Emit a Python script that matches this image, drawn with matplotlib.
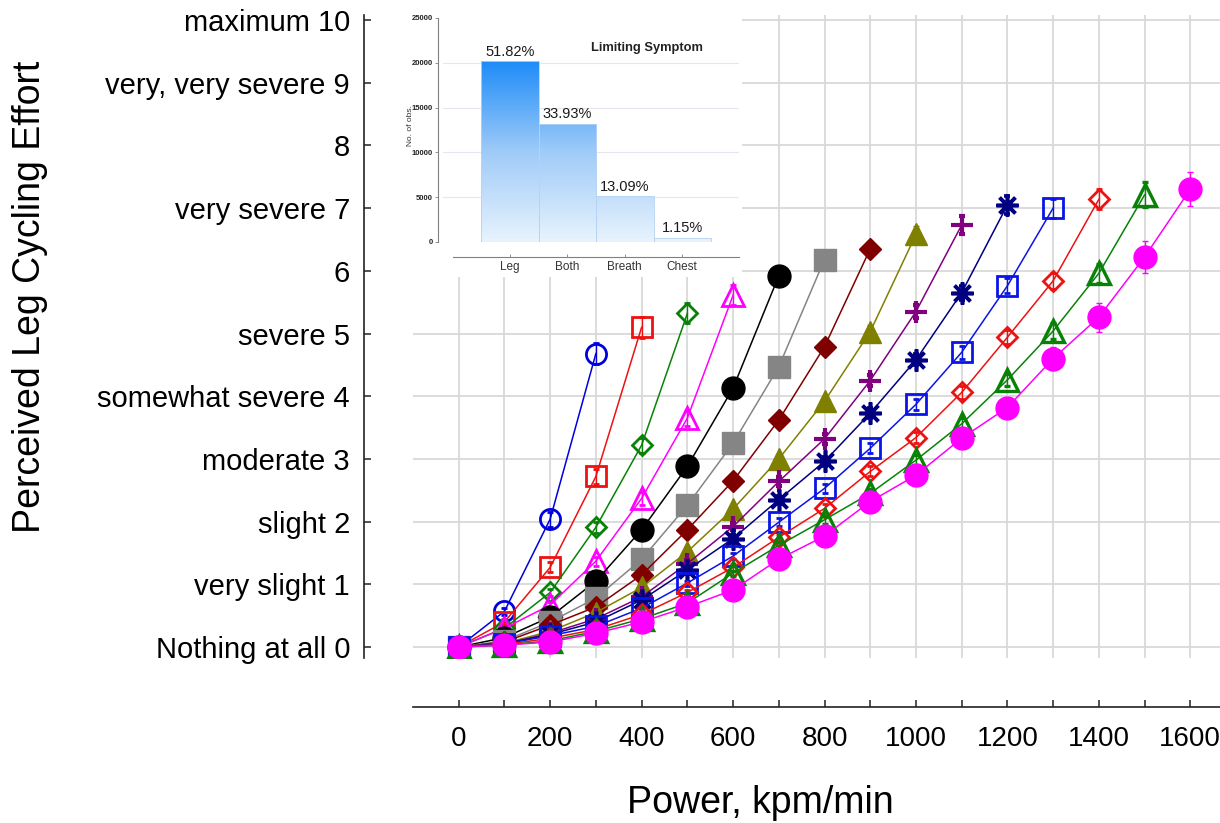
import matplotlib
matplotlib.use("Agg")
import matplotlib.pyplot as plt
import numpy as np
from matplotlib.patches import Rectangle
from matplotlib.colors import LinearSegmentedColormap
from matplotlib import font_manager

names = {f.name for f in font_manager.fontManager.ttflist}
BASE = "Liberation Sans" if "Liberation Sans" in names else "DejaVu Sans"
NARROW = "Liberation Sans Narrow" if "Liberation Sans Narrow" in names else BASE
plt.rcParams["font.family"] = [BASE, "DejaVu Sans"]

# ---------------- data ----------------
power = [0, 100, 200, 300, 400, 500, 600, 700, 800, 900, 1000,
         1100, 1200, 1300, 1400, 1500, 1600]
effort_labels = ["Nothing at all 0", "very slight 1", "slight 2", "moderate 3",
                 "somewhat severe 4", "severe 5", "6", "very severe 7", "8",
                 "very, very severe 9", "maximum 10"]

effort_s1 = [0, 0.57, 2.04, 4.68]
effort_s2 = [0, 0.40, 1.27, 2.72, 5.10]
effort_s3 = [0, 0.30, 0.87, 1.91, 3.22, 5.32]
effort_s4 = [0, 0.30, 0.67, 1.37, 2.37, 3.65, 5.61]
effort_s5 = [0, 0.15, 0.48, 1.05, 1.87, 2.88, 4.13, 5.92]
effort_s6 = [0, 0.10, 0.40, 0.78, 1.40, 2.26, 3.25, 4.47, 6.18]
effort_s7 = [0, 0.08, 0.35, 0.64, 1.15, 1.87, 2.65, 3.62, 4.79, 6.35]
effort_s8 = [0, 0.06, 0.25, 0.55, 0.95, 1.52, 2.20, 3.00, 3.92, 5.03, 6.58]
effort_s9 = [0, 0.05, 0.22, 0.45, 0.80, 1.33, 1.92, 2.64, 3.32, 4.25, 5.35, 6.73]
effort_s10 = [0, 0.05, 0.20, 0.40, 0.75, 1.23, 1.73, 2.35, 2.96, 3.73, 4.58, 5.65, 7.05]
effort_s11 = [0, 0.05, 0.18, 0.33, 0.62, 1.02, 1.45, 1.99, 2.53, 3.17, 3.87, 4.70, 5.76, 7.00]
effort_s12 = [0, 0.04, 0.14, 0.28, 0.52, 0.87, 1.27, 1.75, 2.21, 2.80, 3.34, 4.06, 4.94, 5.84, 7.14]
effort_s13 = [0, 0.03, 0.10, 0.25, 0.45, 0.70, 1.18, 1.62, 2.03, 2.45, 2.98, 3.56, 4.26, 5.04, 5.96, 7.21]
effort_s14 = [0, 0.03, 0.08, 0.22, 0.40, 0.64, 0.91, 1.40, 1.77, 2.32, 2.74, 3.33, 3.82, 4.60, 5.26, 6.22, 7.30]

err_s1 = [0.0, 0.06, 0.12, 0.17]
err_s2 = [0.0, 0.04, 0.08, 0.12, 0.17]
err_s3 = [0.0, 0.03, 0.06, 0.09, 0.12, 0.16]
err_s4 = [0.0, 0.02, 0.05, 0.07, 0.10, 0.12, 0.16]
err_s5 = [0.0, 0.02, 0.04, 0.05, 0.07, 0.09, 0.11, 0.14]
err_s6 = [0.0, 0.01, 0.03, 0.04, 0.06, 0.07, 0.09, 0.10, 0.13]
err_s7 = [0.0, 0.01, 0.02, 0.04, 0.05, 0.06, 0.07, 0.09, 0.10, 0.13]
err_s8 = [0.0, 0.01, 0.02, 0.03, 0.04, 0.05, 0.06, 0.08, 0.09, 0.10, 0.13]
err_s9 = [0.0, 0.01, 0.02, 0.03, 0.04, 0.05, 0.06, 0.07, 0.08, 0.09, 0.11, 0.14]
err_s10 = [0.0, 0.01, 0.02, 0.03, 0.03, 0.04, 0.05, 0.06, 0.07, 0.08, 0.09, 0.11, 0.14]
err_s11 = [0.0, 0.01, 0.01, 0.02, 0.03, 0.04, 0.05, 0.06, 0.07, 0.08, 0.09, 0.10, 0.12, 0.15]
err_s12 = [0.0, 0.01, 0.01, 0.02, 0.03, 0.04, 0.05, 0.06, 0.07, 0.08, 0.09, 0.10, 0.11, 0.13, 0.16]
err_s13 = [0.0, 0.01, 0.01, 0.02, 0.03, 0.03, 0.04, 0.05, 0.06, 0.07, 0.08, 0.09, 0.10, 0.12, 0.15, 0.20]
err_s14 = [0.0, 0.01, 0.01, 0.02, 0.02, 0.03, 0.04, 0.05, 0.06, 0.07, 0.09, 0.12, 0.15, 0.18, 0.23, 0.25, 0.27]

symptoms = ["Leg", "Both", "Breath", "Chest"]
symptom_counts = [20150, 13190, 5090, 447]
symptom_pct = ["51.82%", "33.93%", "13.09%", "1.15%"]
inset_yticks = [0, 5000, 10000, 15000, 20000, 25000]

# ---------------- styles ----------------
series = [
    (effort_s1, err_s1, dict(marker="o", color="#0000DD", mfc="none", ms=14.5, mew=2.0)),
    (effort_s2, err_s2, dict(marker="s", color="#EE1111", mfc="none", ms=14.5, mew=2.0)),
    (effort_s3, err_s3, dict(marker="D", color="#078207", mfc="none", ms=10.5, mew=2.0)),
    (effort_s4, err_s4, dict(marker="^", color="#FF00FF", mfc="none", ms=15.5, mew=2.0)),
    (effort_s5, err_s5, dict(marker="o", color="#000000", ms=16.5, mew=1.0)),
    (effort_s6, err_s6, dict(marker="s", color="#858585", ms=16.0, mew=1.0)),
    (effort_s7, err_s7, dict(marker="D", color="#800000", ms=11.5, mew=1.0)),
    (effort_s8, err_s8, dict(marker="^", color="#808000", ms=16.5, mew=1.0)),
    (effort_s9, err_s9, dict(marker="+", color="#800080", ms=16.0, mew=3.0)),
    (effort_s10, err_s10, dict(marker=(8, 2, 0), color="#000080", ms=16.0, mew=2.6)),
    (effort_s11, err_s11, dict(marker="s", color="#0A14E6", mfc="none", ms=14.5, mew=2.0)),
    (effort_s12, err_s12, dict(marker="D", color="#EE1111", mfc="none", ms=10.5, mew=2.0)),
    (effort_s13, err_s13, dict(marker="^", color="#078207", mfc="none", ms=15.5, mew=2.4)),
    (effort_s14, err_s14, dict(marker="o", color="#FF00FF", ms=16.5, mew=1.0)),
]

W, H = 1220, 823
fig = plt.figure(figsize=(W / 100, H / 100), dpi=100)

# ---------------- main axes ----------------
ax = fig.add_axes([413 / W, 1 - 658 / H, (1220 - 413) / W, (658 - 15) / H], zorder=0)
ax.set_xlim(-100, 1665)
ax.set_ylim(-0.175, 10.08)

for k, (vals, errs, st) in enumerate(series):
    x = power[:len(vals)]
    c = st.pop("color")
    ax.errorbar(x, vals, yerr=errs, color=c, mec=c, lw=1.1, elinewidth=1.0,
                capsize=2.5, capthick=1.0, zorder=3 + k, **st)

ax.set_axisbelow(True)
ax.grid(True, color="#D9D9D9", lw=1.3)

for s in ["top", "right"]:
    ax.spines[s].set_visible(False)
for s in ["left", "bottom"]:
    ax.spines[s].set_position(("outward", 35.3))
    ax.spines[s].set_linewidth(1.2)
    ax.spines[s].set_color("#222222")
ax.tick_params(axis="both", direction="in", length=5, width=1.1, color="#222222",
               labelsize=21, labelcolor="black")
ax.tick_params(axis="y", pad=10)
ax.tick_params(axis="x", pad=14, labelsize=20)

ax.set_xticks(power)
ax.set_xticklabels([str(p) if p % 200 == 0 else "" for p in power],
                   fontsize=20, family=[NARROW, BASE])
ax.set_yticks(range(len(effort_labels)))
ax.set_yticklabels(effort_labels, fontsize=21)

ax.set_xlabel("Power, kpm/min", fontsize=27)
ax.xaxis.set_label_coords((760 - 413) / 807, (658 - 803) / 643)
ax.xaxis.label.set_va("center")
ax.set_ylabel("Perceived Leg Cycling Effort", fontsize=27)
ax.yaxis.set_label_coords((30 - 413) / 807, (658 - 297) / 643)
ax.yaxis.label.set_va("center")

# white patch covering the main chart under the inset
fig.add_artist(Rectangle((395 / W, 1 - 277 / H), (742 - 395) / W, 277 / H,
                         transform=fig.transFigure, facecolor="white",
                         edgecolor="none", zorder=2))

# ---------------- inset ----------------
ins = fig.add_axes([443 / W, 1 - 242 / H, (739 - 443) / W, (242 - 18) / H], zorder=3)
ins.set_facecolor("white")

cmap = LinearSegmentedColormap.from_list("barblue", ["#E8F3FD", "#9FCBF8", "#1E8CF8"])
grad = np.linspace(0, 1, 256).reshape(-1, 1)
ymax = max(symptom_counts)
for v in inset_yticks[1:-1]:
    ins.axhline(v, color="#E3E8EF", lw=0.8, zorder=1)
bars = ins.bar(range(len(symptoms)), symptom_counts, width=1.0, facecolor="none",
               edgecolor="#B5D3F2", lw=0.6, zorder=4)
for b in bars:
    im = ins.imshow(grad, extent=[b.get_x(), b.get_x() + b.get_width(), 0, ymax],
                    origin="lower", cmap=cmap, aspect="auto", zorder=3,
                    interpolation="bilinear")
    im.set_clip_path(b)
for i, (c, p) in enumerate(zip(symptom_counts, symptom_pct)):
    ins.text(i, c + 300, p, ha="center", va="bottom", fontsize=10.5, color="#1a1a1a", zorder=5)

ins.set_xlim(-1.161, 3.987)
ins.set_ylim(0, 25000)
for s in ["top", "right"]:
    ins.spines[s].set_visible(False)
ins.spines["left"].set_position(("outward", 3.6))
ins.spines["bottom"].set_position(("outward", 10.8))
ins.spines["bottom"].set_bounds(-0.987, 3.987)
for s in ["left", "bottom"]:
    ins.spines[s].set_color("#808080")
    ins.spines[s].set_linewidth(0.8)
ins.tick_params(axis="y", direction="out", length=2, width=0.6, pad=1.5,
                color="#808080", labelcolor="#222222", labelsize=5.5)
ins.tick_params(axis="x", direction="in", length=2, width=0.6, pad=3,
                color="#808080", labelcolor="#333333", labelsize=8.5)
ins.set_yticks(inset_yticks)
ins.set_yticklabels([str(v) for v in inset_yticks], fontsize=5.5, fontweight="bold")
ins.set_xticks(range(len(symptoms)))
ins.set_xticklabels(symptoms, fontsize=8.5, color="#333333")
ins.set_ylabel("No. of obs.", fontsize=6, color="#333333")
ins.yaxis.set_label_coords(-0.111, 0.52)
ins.yaxis.label.set_va("center")
ins.text(0.69, 0.866, "Limiting Symptom", transform=ins.transAxes, fontsize=9.3,
         fontweight="bold", ha="center", va="center", color="#222222")

fig.savefig("out.png", dpi=100)
